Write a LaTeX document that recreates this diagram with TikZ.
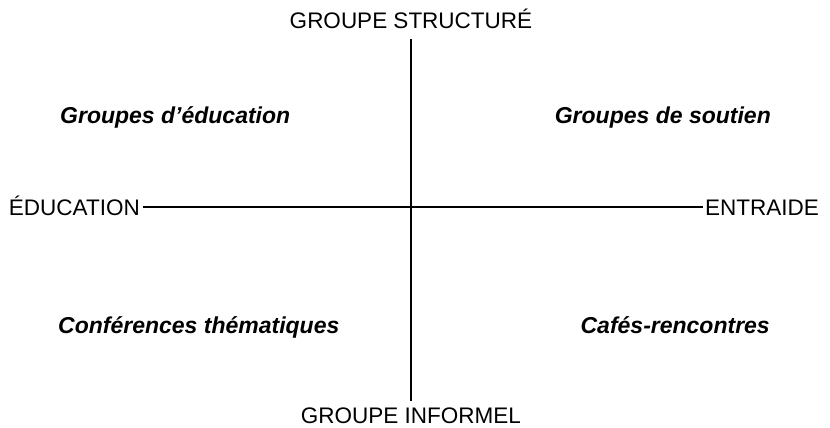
\documentclass[tikz,border=0pt]{standalone}
\usepackage{fontspec}
\setmainfont{Liberation Sans}
\begin{document}
\begin{tikzpicture}[x=1pt,y=-1pt,
  axislabel/.style={inner sep=0pt,font=\fontsize{22.5}{26}\selectfont},
  quadlabel/.style={inner sep=0pt,font=\fontsize{23}{27}\selectfont\bfseries\itshape},
  axisline/.style={line width=1.8pt,black}]
\useasboundingbox (0,0) rectangle (830,428);
% axis labels
\node[axislabel,anchor=base] (top) at (411,29) {GROUPE STRUCTURÉ};
\node[axislabel,anchor=base] (bot) at (411,423) {GROUPE INFORMEL};
\node[axislabel,anchor=base east] (left) at (140,215) {ÉDUCATION};
\node[axislabel,anchor=base west] (right) at (705,215) {ENTRAIDE};
% axis end points
\coordinate (vt) at (411,39);
\coordinate (vb) at (411,401);
\coordinate (hl) at (143,207);
\coordinate (hr) at (703,207);
\draw[axisline] (vt) -- (vb);
\draw[axisline] (hl) -- (hr);
% quadrant labels
\node[quadlabel,anchor=base west] (q1) at (60,123) {Groupes d’éducation};
\node[quadlabel,anchor=base east] (q2) at (771,123) {Groupes de soutien};
\node[quadlabel,anchor=base west] (q3) at (58,333) {Conférences thématiques};
\node[quadlabel,anchor=base east] (q4) at (770,333) {Cafés-rencontres};
\end{tikzpicture}
\end{document}
